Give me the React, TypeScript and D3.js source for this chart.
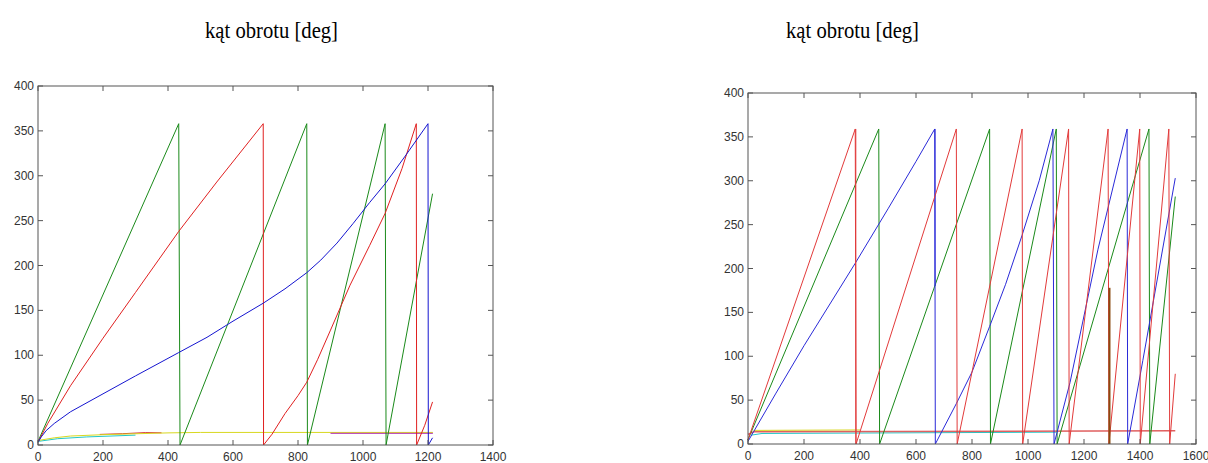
import * as d3 from 'd3';

type Pt = [number, number];

// ---- left panel (x 0..1400) ----
const leftXTicks = [0, 200, 400, 600, 800, 1000, 1200, 1400];
const leftGreen: Pt[] = [[0, 4], [433, 358], [437, 0], [827, 358], [829, 0], [1068, 358], [1071, 0], [1214, 280]];
const leftRed: Pt[] = [
  [0, 3], [30, 24], [100, 66], [200, 119], [300, 170], [433, 238], [550, 293], [693, 358],
  [694, 0], [720, 12], [760, 35], [800, 55], [827, 70], [860, 95], [900, 128], [960, 178], [1020, 222],
  [1068, 258], [1120, 308], [1164, 358],
  [1165, 0], [1190, 22], [1214, 48],
];
const leftBlue: Pt[] = [
  [0, 3], [10, 9], [25, 16], [50, 24], [100, 37], [200, 57], [300, 77], [433, 103], [520, 120], [600, 138],
  [693, 158], [760, 174], [827, 192], [870, 206], [920, 225], [970, 247], [1020, 270], [1068, 291], [1130, 322],
  [1200, 358], [1201, 0], [1214, 8],
];
const leftYellow: Pt[] = [[0, 5], [50, 8], [100, 10], [200, 11.5], [300, 12.5], [400, 13.5], [500, 14], [1215, 14]];
const leftCyan: Pt[] = [[0, 4], [60, 7], [150, 9], [300, 11]];
const leftMagenta: Pt[] = [[900, 13], [1215, 13]];
const leftRedLow: Pt[] = [[190, 11.8], [260, 12.6], [330, 13.8], [380, 13.6]];

// ---- right panel (x 0..1600) ----
const rightXTicks = [0, 200, 400, 600, 800, 1000, 1200, 1400, 1600];
const rightRed: Pt[] = [
  [0, 5], [383, 359], [386, 0], [744, 359], [747, 0], [979, 359], [981, 0], [1145, 359], [1147, 0],
  [1286, 359], [1289, 0], [1399, 359], [1401, 0], [1503, 359], [1506, 0], [1526, 80],
];
const rightGreen: Pt[] = [
  [0, 5], [467, 359], [470, 0], [863, 359], [866, 0], [1101, 359], [1104, 0], [1432, 359], [1435, 0], [1526, 282],
];
const rightBlue: Pt[] = [
  [0, 3], [20, 14], [100, 58], [200, 112], [383, 206], [500, 268], [600, 322], [667, 359], [669, 0],
  [744, 46], [800, 82], [863, 134], [920, 182], [979, 238], [1040, 300], [1089, 359], [1093, 0],
  [1150, 70], [1250, 222], [1354, 359], [1356, 0], [1410, 95], [1526, 303],
];
const rightSalmon: Pt[] = [[0, 11], [20, 14], [1526, 15]];
const rightCyan: Pt[] = [[10, 10], [50, 12], [1100, 13.5]];
const rightYellow: Pt[] = [[20, 15.5], [400, 16]];
const rightBrown: Pt[] = [[1291, 0], [1291, 178]];
const rightRedDrop: Pt[] = [[385, 0], [385, 359]];
const rightBlueDrop: Pt[] = [[668, 180], [668, 359]];

const yTicks = [0, 50, 100, 150, 200, 250, 300, 350, 400];

interface Series { pts: Pt[]; color: string; width?: number }

interface PlotProps {
  x0: number; x1: number; y0: number; y1: number;
  xMax: number; xTicks: number[]; series: Series[];
}

function Plot({ x0, x1, y0, y1, xMax, xTicks, series }: PlotProps) {
  const x = d3.scaleLinear().domain([0, xMax]).range([x0, x1]);
  const y = d3.scaleLinear().domain([0, 400]).range([y1, y0]);
  const line = d3.line<Pt>().x(d => x(d[0])).y(d => y(d[1]));
  const tl = 5;
  return (
    <g>
      {series.map((s, i) => (
        <path key={i} d={line(s.pts) || ''} fill="none" stroke={s.color} strokeWidth={s.width || 1} />
      ))}
      <rect x={x0} y={y0} width={x1 - x0} height={y1 - y0} fill="none" stroke="#555" strokeWidth={1} />
      {xTicks.map(t => (
        <g key={'x' + t}>
          <line x1={x(t)} x2={x(t)} y1={y1} y2={y1 - tl} stroke="#555" />
          <line x1={x(t)} x2={x(t)} y1={y0} y2={y0 + tl} stroke="#555" />
          <text x={x(t)} y={y1 + 16} textAnchor="middle" fontSize={12} fill="#333"
            fontFamily="Liberation Sans, Arial, sans-serif">{t}</text>
        </g>
      ))}
      {yTicks.map(t => (
        <g key={'y' + t}>
          <line x1={x0} x2={x0 + tl} y1={y(t)} y2={y(t)} stroke="#555" />
          <line x1={x1} x2={x1 - tl} y1={y(t)} y2={y(t)} stroke="#555" />
          <text x={x0 - 4} y={y(t) + 4} textAnchor="end" fontSize={12} fill="#333"
            fontFamily="Liberation Sans, Arial, sans-serif">{t}</text>
        </g>
      ))}
    </g>
  );
}

export default function App() {
  const leftSeries: Series[] = [
    { pts: leftCyan, color: '#22c8c8' },
    { pts: leftRedLow, color: '#d63030' },
    { pts: leftYellow, color: '#d8d820' },
    { pts: leftMagenta, color: '#b030b0' },
    { pts: leftGreen, color: '#1a8a1a' },
    { pts: leftRed, color: '#e02020' },
    { pts: leftBlue, color: '#1515d0' },
  ];
  const rightSeries: Series[] = [
    { pts: rightCyan, color: '#22c8c8' },
    { pts: rightYellow, color: '#d8d820' },
    { pts: rightSalmon, color: '#e06060', width: 1.5 },
    { pts: rightGreen, color: '#1a8a1a' },
    { pts: rightBlue, color: '#2a2ad8' },
    { pts: rightBlueDrop, color: '#2a2ad8' },
    { pts: rightRed, color: '#e23a3a' },
    { pts: rightRedDrop, color: '#e23a3a' },
    { pts: rightBrown, color: '#8a4a10', width: 2 },
  ];
  const titleFont = 'Liberation Serif, Times New Roman, serif';
  return (
    <div style={{ position: 'absolute', left: 0, top: 0 }}>
      <svg width={1208} height={463} style={{ display: 'block', background: '#fff' }}>
        <text x={205} y={38} fontSize={23} textLength={133} lengthAdjust="spacingAndGlyphs" fontFamily={titleFont}>kąt obrotu [deg]</text>
        <text x={786} y={38} fontSize={23} textLength={133} lengthAdjust="spacingAndGlyphs" fontFamily={titleFont}>kąt obrotu [deg]</text>
        <Plot x0={38} x1={493} y0={86} y1={445} xMax={1400} xTicks={leftXTicks} series={leftSeries} />
        <Plot x0={748} x1={1196} y0={93} y1={444} xMax={1600} xTicks={rightXTicks} series={rightSeries} />
      </svg>
    </div>
  );
}
